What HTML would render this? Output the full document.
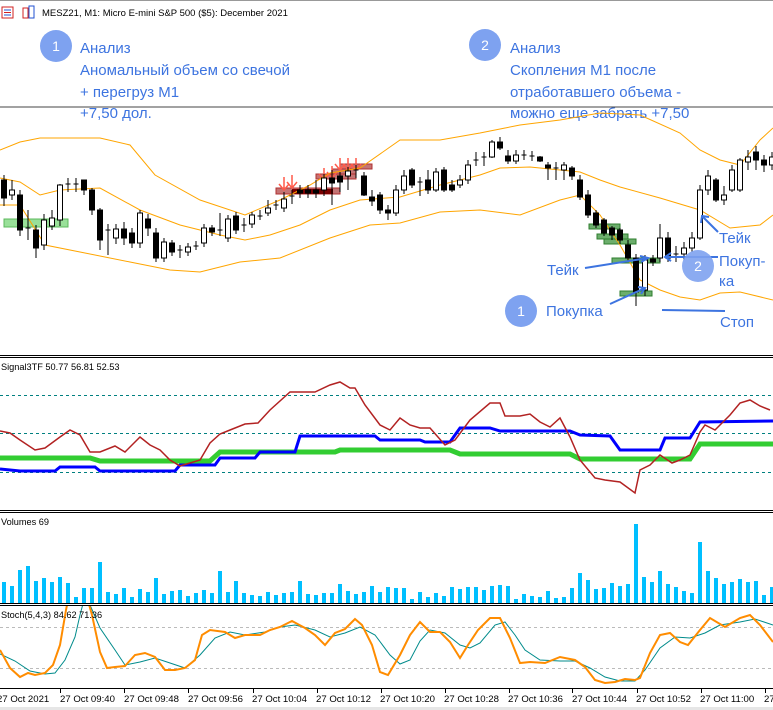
<!DOCTYPE html>
<html><head><meta charset="utf-8"><style>
html,body{margin:0;padding:0;background:#fff;}
svg{display:block;font-family:"Liberation Sans","DejaVu Sans",sans-serif;}
.w{fill:#fff;stroke:#000;stroke-width:1}
.b{fill:#000;stroke:#000;stroke-width:1}
.k{stroke:#000;stroke-width:1}
.an{fill:#3d74e0;font-size:15px}
.ax{font-size:9.6px;fill:#000}
</style></head><body>
<svg width="773" height="710" viewBox="0 0 773 710" xmlns="http://www.w3.org/2000/svg">
<defs><clipPath id="st"><rect x="0" y="606" width="773" height="82"/></clipPath></defs>
<rect x="0" y="0" width="773" height="710" fill="#fff"/>
<line x1="0" y1="0.5" x2="773" y2="0.5" stroke="#999"/>
<rect x="2" y="7" width="11" height="11" fill="none" stroke="#d02020"/>
<line x1="4" y1="10" x2="11" y2="10" stroke="#2050d0"/><line x1="4" y1="12.5" x2="11" y2="12.5" stroke="#d02020"/><line x1="4" y1="15" x2="11" y2="15" stroke="#2050d0"/>
<rect x="23" y="8" width="5" height="10" fill="none" stroke="#d02020"/><rect x="29" y="6" width="5" height="12" fill="none" stroke="#2050d0"/>
<text x="42" y="16" font-size="9.5" fill="#000">MESZ21, M1:  Micro E-mini S&amp;P 500 ($5): December 2021</text>

<circle cx="56" cy="46" r="16" fill="#7ea2f0"/><text x="56" y="51" text-anchor="middle" fill="#fff" font-size="14">1</text>
<text class="an" x="80" y="53">Анализ</text>
<text class="an" x="80" y="75">Аномальный объем со свечой</text>
<text class="an" x="80" y="97">+ перегруз М1</text>
<text class="an" x="80" y="118">+7,50 дол.</text>
<circle cx="485" cy="45" r="16" fill="#7ea2f0"/><text x="485" y="50" text-anchor="middle" fill="#fff" font-size="14">2</text>
<text class="an" x="510" y="53">Анализ</text>
<text class="an" x="510" y="75">Скопления М1 после</text>
<text class="an" x="510" y="97">отработавшего объема -</text>
<text class="an" x="510" y="118">можно еще забрать +7,50</text>
<line x1="0" y1="107" x2="773" y2="107" stroke="#444" stroke-width="1"/>

<rect x="4" y="219" width="64" height="8" fill="#7fd87f" fill-opacity=".8" stroke="#5cb85c"/>
<g fill="#2e8b2e" fill-opacity=".7" stroke="#2e7d2e">
<rect x="589" y="224" width="31" height="5"/><rect x="597" y="234" width="31" height="5"/><rect x="604" y="239" width="32" height="5"/>
<rect x="612" y="258" width="48" height="5"/><rect x="620" y="291" width="32" height="5"/></g>
<g fill="#a52a2a" fill-opacity=".65" stroke="#b03030">
<rect x="276" y="188" width="64" height="6"/><rect x="316" y="174" width="40" height="5"/><rect x="332" y="169" width="24" height="5"/><rect x="340" y="164" width="32" height="5"/></g>
<rect x="292" y="189" width="41" height="5" fill="#7a0000"/>
<g stroke="#ff5a4a" stroke-width="1.5" fill="none">
<path d="M284 177v13M279 184l5 6 5-6M292 175v13M287 182l5 6 5-6M324 168v12M319 174l5 6 5-6M332 166v12M327 172l5 6 5-6M340 158v12M335 164l5 6 5-6M348 158v12M343 164l5 6 5-6M356 158v12M351 164l5 6 5-6"/></g>

<g fill="none" stroke="#ffa500" stroke-width="1">
<polyline points="0,150 20,142 40,138 100,138 130,145 155,175 200,200 245,215 280,200 310,185 330,173 360,168 400,140 440,140 480,133 520,125 560,120 600,113 640,115 680,133 700,150 720,160 740,165 760,140 773,128"/>
<polyline points="0,178 20,182 40,195 60,190 100,188 140,210 180,225 220,235 245,240 270,235 300,225 330,210 360,200 400,197 440,185 480,175 500,168 530,167 560,170 580,172 600,180 620,187 660,198 700,210 730,228 760,225 773,215"/>
<polyline points="0,205 20,205 45,245 80,252 130,262 170,270 200,272 240,262 280,258 330,238 370,225 400,223 440,212 480,210 520,215 560,200 580,195 600,215 620,245 640,280 660,290 680,297 700,300 720,293 740,292 773,300"/>
</g>

<g>
<line class="k" x1="4" y1="175" x2="4" y2="206"/><rect class="b" x="1.5" y="180" width="5" height="18"/>
<line class="k" x1="12" y1="180" x2="12" y2="200"/><rect class="w" x="9.5" y="190" width="5" height="5"/>
<line class="k" x1="20" y1="190" x2="20" y2="236"/><rect class="b" x="17.5" y="195" width="5" height="35"/>
<line class="k" x1="28" y1="210" x2="28" y2="240"/><line class="k" x1="25.5" y1="228" x2="30.5" y2="228"/>
<line class="k" x1="36" y1="225" x2="36" y2="258"/><rect class="b" x="33.5" y="230" width="5" height="18"/>
<line class="k" x1="44" y1="214" x2="44" y2="250"/><rect class="w" x="41.5" y="220" width="5" height="25"/>
<line class="k" x1="52" y1="210" x2="52" y2="230"/><rect class="w" x="49.5" y="218" width="5" height="8"/>
<line class="k" x1="60" y1="184" x2="60" y2="226"/><rect class="w" x="57.5" y="185" width="5" height="35"/>
<line class="k" x1="68" y1="178" x2="68" y2="192"/><line class="k" x1="65.5" y1="184" x2="70.5" y2="184"/>
<line class="k" x1="76" y1="178" x2="76" y2="192"/><line class="k" x1="73.5" y1="184" x2="78.5" y2="184"/>
<line class="k" x1="84" y1="180" x2="84" y2="195"/><rect class="b" x="81.5" y="180" width="5" height="10"/>
<line class="k" x1="92" y1="188" x2="92" y2="215"/><rect class="b" x="89.5" y="190" width="5" height="20"/>
<line class="k" x1="100" y1="208" x2="100" y2="250"/><rect class="b" x="97.5" y="210" width="5" height="30"/>
<line class="k" x1="108" y1="224" x2="108" y2="255"/><line class="k" x1="105.5" y1="230" x2="110.5" y2="230"/>
<line class="k" x1="116" y1="224" x2="116" y2="244"/><rect class="w" x="113.5" y="229" width="5" height="9"/>
<line class="k" x1="124" y1="222" x2="124" y2="245"/><rect class="b" x="121.5" y="229" width="5" height="9"/>
<line class="k" x1="132" y1="228" x2="132" y2="248"/><rect class="b" x="129.5" y="233" width="5" height="10"/>
<line class="k" x1="140" y1="210" x2="140" y2="248"/><rect class="w" x="137.5" y="213" width="5" height="30"/>
<line class="k" x1="148" y1="214" x2="148" y2="236"/><rect class="b" x="145.5" y="219" width="5" height="9"/>
<line class="k" x1="156" y1="228" x2="156" y2="262"/><rect class="b" x="153.5" y="233" width="5" height="25"/>
<line class="k" x1="164" y1="238" x2="164" y2="262"/><rect class="w" x="161.5" y="242" width="5" height="16"/>
<line class="k" x1="172" y1="240" x2="172" y2="256"/><rect class="b" x="169.5" y="243" width="5" height="9"/>
<line class="k" x1="180" y1="245" x2="180" y2="258"/><line class="k" x1="177.5" y1="250" x2="182.5" y2="250"/>
<line class="k" x1="188" y1="243" x2="188" y2="256"/><rect class="w" x="185.5" y="247" width="5" height="5"/>
<line class="k" x1="196" y1="241" x2="196" y2="250"/><line class="k" x1="193.5" y1="246" x2="198.5" y2="246"/>
<line class="k" x1="204" y1="224" x2="204" y2="247"/><rect class="w" x="201.5" y="228" width="5" height="15"/>
<line class="k" x1="212" y1="225" x2="212" y2="236"/><rect class="b" x="209.5" y="228" width="5" height="4"/>
<line class="k" x1="220" y1="213" x2="220" y2="236"/><line class="k" x1="217.5" y1="230" x2="222.5" y2="230"/>
<line class="k" x1="228" y1="215" x2="228" y2="242"/><rect class="w" x="225.5" y="219" width="5" height="19"/>
<line class="k" x1="236" y1="212" x2="236" y2="234"/><rect class="b" x="233.5" y="216" width="5" height="14"/>
<line class="k" x1="244" y1="218" x2="244" y2="232"/><line class="k" x1="241.5" y1="225" x2="246.5" y2="225"/>
<line class="k" x1="252" y1="212" x2="252" y2="228"/><rect class="w" x="249.5" y="215" width="5" height="9"/>
<line class="k" x1="260" y1="210" x2="260" y2="220"/><line class="k" x1="257.5" y1="216" x2="262.5" y2="216"/>
<line class="k" x1="268" y1="200" x2="268" y2="216"/><rect class="w" x="265.5" y="208" width="5" height="5"/>
<line class="k" x1="276" y1="200" x2="276" y2="210"/><line class="k" x1="273.5" y1="205" x2="278.5" y2="205"/>
<line class="k" x1="284" y1="192" x2="284" y2="212"/><rect class="w" x="281.5" y="199" width="5" height="9"/>
<line class="k" x1="292" y1="190" x2="292" y2="204"/><line class="k" x1="289.5" y1="196" x2="294.5" y2="196"/>
<line class="k" x1="300" y1="185" x2="300" y2="198"/><rect class="b" x="297.5" y="190" width="5" height="3"/>
<line class="k" x1="308" y1="185" x2="308" y2="198"/><rect class="b" x="305.5" y="190" width="5" height="3"/>
<line class="k" x1="316" y1="180" x2="316" y2="198"/><rect class="b" x="313.5" y="190" width="5" height="3"/>
<line class="k" x1="324" y1="174" x2="324" y2="196"/><rect class="w" x="321.5" y="178" width="5" height="12"/>
<line class="k" x1="332" y1="170" x2="332" y2="205"/><rect class="b" x="329.5" y="178" width="5" height="5"/>
<line class="k" x1="340" y1="172" x2="340" y2="192"/><rect class="b" x="337.5" y="176" width="5" height="6"/>
<line class="k" x1="348" y1="167" x2="348" y2="190"/><rect class="w" x="345.5" y="171" width="5" height="5"/>
<line class="k" x1="356" y1="165" x2="356" y2="178"/><line class="k" x1="353.5" y1="170" x2="358.5" y2="170"/>
<line class="k" x1="364" y1="172" x2="364" y2="196"/><rect class="b" x="361.5" y="176" width="5" height="19"/>
<line class="k" x1="372" y1="190" x2="372" y2="206"/><rect class="b" x="369.5" y="197" width="5" height="4"/>
<line class="k" x1="380" y1="192" x2="380" y2="214"/><rect class="b" x="377.5" y="195" width="5" height="15"/>
<line class="k" x1="388" y1="205" x2="388" y2="220"/><rect class="b" x="385.5" y="210" width="5" height="3"/>
<line class="k" x1="396" y1="185" x2="396" y2="216"/><rect class="w" x="393.5" y="190" width="5" height="23"/>
<line class="k" x1="404" y1="170" x2="404" y2="194"/><rect class="w" x="401.5" y="176" width="5" height="14"/>
<line class="k" x1="412" y1="168" x2="412" y2="188"/><rect class="b" x="409.5" y="170" width="5" height="15"/>
<line class="k" x1="420" y1="177" x2="420" y2="196"/><line class="k" x1="417.5" y1="182" x2="422.5" y2="182"/>
<line class="k" x1="428" y1="170" x2="428" y2="194"/><rect class="b" x="425.5" y="180" width="5" height="10"/>
<line class="k" x1="436" y1="168" x2="436" y2="192"/><rect class="w" x="433.5" y="172" width="5" height="18"/>
<line class="k" x1="444" y1="167" x2="444" y2="192"/><rect class="b" x="441.5" y="170" width="5" height="20"/>
<line class="k" x1="452" y1="180" x2="452" y2="192"/><rect class="b" x="449.5" y="185" width="5" height="5"/>
<line class="k" x1="460" y1="175" x2="460" y2="188"/><rect class="w" x="457.5" y="180" width="5" height="5"/>
<line class="k" x1="468" y1="160" x2="468" y2="184"/><rect class="w" x="465.5" y="165" width="5" height="15"/>
<line class="k" x1="476" y1="152" x2="476" y2="166"/><line class="k" x1="473.5" y1="160" x2="478.5" y2="160"/>
<line class="k" x1="484" y1="152" x2="484" y2="166"/><line class="k" x1="481.5" y1="157" x2="486.5" y2="157"/>
<line class="k" x1="492" y1="140" x2="492" y2="158"/><rect class="w" x="489.5" y="142" width="5" height="15"/>
<line class="k" x1="500" y1="137" x2="500" y2="150"/><rect class="b" x="497.5" y="142" width="5" height="6"/>
<line class="k" x1="508" y1="150" x2="508" y2="164"/><rect class="b" x="505.5" y="156" width="5" height="5"/>
<line class="k" x1="516" y1="150" x2="516" y2="164"/><rect class="w" x="513.5" y="155" width="5" height="6"/>
<line class="k" x1="524" y1="150" x2="524" y2="160"/><line class="k" x1="521.5" y1="155" x2="526.5" y2="155"/>
<line class="k" x1="532" y1="151" x2="532" y2="161"/><line class="k" x1="529.5" y1="156" x2="534.5" y2="156"/>
<line class="k" x1="540" y1="156" x2="540" y2="162"/><rect class="b" x="537.5" y="157" width="5" height="4"/>
<line class="k" x1="548" y1="162" x2="548" y2="180"/><rect class="b" x="545.5" y="165" width="5" height="3"/>
<line class="k" x1="556" y1="162" x2="556" y2="180"/><line class="k" x1="553.5" y1="168" x2="558.5" y2="168"/>
<line class="k" x1="564" y1="162" x2="564" y2="180"/><rect class="w" x="561.5" y="165" width="5" height="5"/>
<line class="k" x1="572" y1="166" x2="572" y2="180"/><rect class="b" x="569.5" y="168" width="5" height="8"/>
<line class="k" x1="580" y1="175" x2="580" y2="200"/><rect class="b" x="577.5" y="180" width="5" height="17"/>
<line class="k" x1="588" y1="190" x2="588" y2="218"/><rect class="b" x="585.5" y="195" width="5" height="20"/>
<line class="k" x1="596" y1="210" x2="596" y2="228"/><rect class="b" x="593.5" y="213" width="5" height="12"/>
<line class="k" x1="604" y1="218" x2="604" y2="236"/><rect class="b" x="601.5" y="220" width="5" height="13"/>
<line class="k" x1="612" y1="226" x2="612" y2="240"/><rect class="b" x="609.5" y="228" width="5" height="7"/>
<line class="k" x1="620" y1="228" x2="620" y2="244"/><rect class="b" x="617.5" y="230" width="5" height="10"/>
<line class="k" x1="628" y1="240" x2="628" y2="262"/><rect class="b" x="625.5" y="245" width="5" height="13"/>
<line class="k" x1="636" y1="254" x2="636" y2="306"/><rect class="b" x="633.5" y="258" width="5" height="34"/>
<line class="k" x1="645" y1="255" x2="645" y2="296"/><rect class="w" x="642.5" y="260" width="5" height="30"/>
<line class="k" x1="653" y1="255" x2="653" y2="266"/><rect class="b" x="650.5" y="259" width="5" height="3"/>
<line class="k" x1="660" y1="224" x2="660" y2="262"/><rect class="w" x="657.5" y="238" width="5" height="20"/>
<line class="k" x1="668" y1="232" x2="668" y2="262"/><rect class="b" x="665.5" y="238" width="5" height="20"/>
<line class="k" x1="676" y1="246" x2="676" y2="262"/><line class="k" x1="673.5" y1="254" x2="678.5" y2="254"/>
<line class="k" x1="684" y1="242" x2="684" y2="260"/><rect class="w" x="681.5" y="248" width="5" height="6"/>
<line class="k" x1="692" y1="232" x2="692" y2="252"/><rect class="w" x="689.5" y="238" width="5" height="10"/>
<line class="k" x1="700" y1="185" x2="700" y2="240"/><rect class="w" x="697.5" y="190" width="5" height="48"/>
<line class="k" x1="708" y1="170" x2="708" y2="195"/><rect class="w" x="705.5" y="176" width="5" height="14"/>
<line class="k" x1="716" y1="178" x2="716" y2="202"/><rect class="b" x="713.5" y="180" width="5" height="20"/>
<line class="k" x1="724" y1="186" x2="724" y2="205"/><rect class="w" x="721.5" y="195" width="5" height="5"/>
<line class="k" x1="732" y1="165" x2="732" y2="192"/><rect class="w" x="729.5" y="170" width="5" height="20"/>
<line class="k" x1="740" y1="158" x2="740" y2="192"/><rect class="w" x="737.5" y="160" width="5" height="30"/>
<line class="k" x1="748" y1="150" x2="748" y2="170"/><rect class="w" x="745.5" y="157" width="5" height="5"/>
<line class="k" x1="756" y1="146" x2="756" y2="170"/><rect class="b" x="753.5" y="152" width="5" height="8"/>
<line class="k" x1="764" y1="155" x2="764" y2="172"/><rect class="b" x="761.5" y="160" width="5" height="5"/>
<line class="k" x1="772" y1="152" x2="772" y2="170"/><rect class="w" x="769.5" y="157" width="5" height="8"/>
</g>

<g stroke="#3d74e0" stroke-width="2" fill="none">
<line x1="585" y1="268" x2="648" y2="258"/><path d="M640 256l8 2-7 4"/>
<line x1="718" y1="232" x2="702" y2="216"/><path d="M701 223l1-7 7 1"/>
<line x1="718" y1="257" x2="665" y2="257"/><path d="M671 253l-6 4 6 4"/>
<line x1="610" y1="304" x2="645" y2="288"/><path d="M638 287l7 1-4 6"/>
<line x1="662" y1="310" x2="725" y2="311"/>
</g>
<text class="an" x="547" y="275">Тейк</text>
<circle cx="698" cy="266" r="16" fill="#7ea2f0" fill-opacity=".9"/><text x="698" y="271" text-anchor="middle" fill="#fff" font-size="14">2</text>
<text class="an" x="719" y="243">Тейк</text>
<text class="an" x="719" y="266">Покуп-</text>
<text class="an" x="719" y="286">ка</text>
<circle cx="521" cy="311" r="16" fill="#7ea2f0"/><text x="521" y="316" text-anchor="middle" fill="#fff" font-size="14">1</text>
<text class="an" x="546" y="316">Покупка</text>
<text class="an" x="720" y="327">Стоп</text>

<g stroke="#000" stroke-width="1">
<line x1="0" y1="355.5" x2="773" y2="355.5"/><line x1="0" y1="357.5" x2="773" y2="357.5"/>
<line x1="0" y1="510.5" x2="773" y2="510.5"/><line x1="0" y1="512.5" x2="773" y2="512.5"/>
<line x1="0" y1="603.5" x2="773" y2="603.5"/><line x1="0" y1="605.5" x2="773" y2="605.5"/>
<line x1="0" y1="688.5" x2="773" y2="688.5"/>
</g>

<text x="1" y="370" font-size="9.2" fill="#000">Signal3TF 50.77 56.81 52.53</text>
<g stroke="#008080" stroke-dasharray="3,3" stroke-width="1">
<line x1="0" y1="395.5" x2="773" y2="395.5"/><line x1="0" y1="433.5" x2="773" y2="433.5"/><line x1="0" y1="472.5" x2="773" y2="472.5"/></g>
<polyline fill="none" stroke="#32cd32" stroke-width="5" points="0,458 90,458 100,461 210,461 220,452 335,452 340,450 450,450 460,454 570,454 580,459 690,459 700,444 773,444"/>
<polyline fill="none" stroke="#0000ff" stroke-width="3" points="0,469 20,471 55,471 60,467 95,467 100,471 175,471 180,465 215,465 220,458 255,458 260,452 295,452 300,436 375,436 380,440 420,440 425,442 450,442 460,428 490,428 500,431 570,431 580,435 610,436 620,450 660,450 665,438 690,438 700,422 773,421"/>
<polyline fill="none" stroke="#b22222" stroke-width="1.5" points="0,431 10,433 20,440 35,450 45,448 60,437 70,430 80,435 90,452 100,452 115,446 125,452 140,437 150,445 160,450 170,460 180,466 200,460 210,443 220,434 230,430 245,424 258,423 270,410 290,392 315,392 330,385 340,382 350,388 355,388 365,405 380,425 390,430 400,418 410,425 420,428 430,428 445,445 455,440 470,420 490,403 500,403 505,416 520,416 530,414 540,422 550,427 560,418 570,437 580,460 595,478 605,480 620,482 635,493 640,470 650,465 660,455 672,463 680,460 690,455 700,432 705,425 715,430 730,415 740,403 750,400 760,406 770,410"/>

<text x="1" y="525" font-size="9.2" fill="#000">Volumes 69</text>
<g fill="#00bfff">
<rect x="2" y="582" width="4" height="21"/><rect x="10" y="586" width="4" height="17"/><rect x="18" y="570" width="4" height="33"/><rect x="26" y="566" width="4" height="37"/><rect x="34" y="581" width="4" height="22"/><rect x="42" y="578" width="4" height="25"/><rect x="50" y="582" width="4" height="21"/><rect x="58" y="577" width="4" height="26"/><rect x="66" y="583" width="4" height="20"/><rect x="74" y="597" width="4" height="6"/><rect x="82" y="588" width="4" height="15"/><rect x="90" y="588" width="4" height="15"/><rect x="98" y="562" width="4" height="41"/><rect x="106" y="592" width="4" height="11"/><rect x="114" y="594" width="4" height="9"/><rect x="122" y="588" width="4" height="15"/><rect x="130" y="597" width="4" height="6"/><rect x="138" y="589" width="4" height="14"/><rect x="146" y="592" width="4" height="11"/><rect x="154" y="578" width="4" height="25"/><rect x="162" y="594" width="4" height="9"/><rect x="170" y="591" width="4" height="12"/><rect x="178" y="590" width="4" height="13"/><rect x="186" y="596" width="4" height="7"/><rect x="194" y="593" width="4" height="10"/><rect x="202" y="590" width="4" height="13"/><rect x="210" y="593" width="4" height="10"/><rect x="218" y="571" width="4" height="32"/><rect x="226" y="592" width="4" height="11"/><rect x="234" y="581" width="4" height="22"/><rect x="242" y="593" width="4" height="10"/><rect x="250" y="595" width="4" height="8"/><rect x="258" y="596" width="4" height="7"/><rect x="266" y="592" width="4" height="11"/><rect x="274" y="595" width="4" height="8"/><rect x="282" y="593" width="4" height="10"/><rect x="290" y="592" width="4" height="11"/><rect x="298" y="581" width="4" height="22"/><rect x="306" y="594" width="4" height="9"/><rect x="314" y="595" width="4" height="8"/><rect x="322" y="593" width="4" height="10"/><rect x="330" y="593" width="4" height="10"/><rect x="338" y="584" width="4" height="19"/><rect x="346" y="591" width="4" height="12"/><rect x="354" y="594" width="4" height="9"/><rect x="362" y="592" width="4" height="11"/><rect x="370" y="586" width="4" height="17"/><rect x="378" y="592" width="4" height="11"/><rect x="386" y="587" width="4" height="16"/><rect x="394" y="588" width="4" height="15"/><rect x="402" y="588" width="4" height="15"/><rect x="410" y="599" width="4" height="4"/><rect x="418" y="592" width="4" height="11"/><rect x="426" y="597" width="4" height="6"/><rect x="434" y="593" width="4" height="10"/><rect x="442" y="596" width="4" height="7"/><rect x="450" y="587" width="4" height="16"/><rect x="458" y="589" width="4" height="14"/><rect x="466" y="587" width="4" height="16"/><rect x="474" y="587" width="4" height="16"/><rect x="482" y="590" width="4" height="13"/><rect x="490" y="586" width="4" height="17"/><rect x="498" y="585" width="4" height="18"/><rect x="506" y="586" width="4" height="17"/><rect x="514" y="599" width="4" height="4"/><rect x="522" y="594" width="4" height="9"/><rect x="530" y="596" width="4" height="7"/><rect x="538" y="597" width="4" height="6"/><rect x="546" y="591" width="4" height="12"/><rect x="554" y="598" width="4" height="5"/><rect x="562" y="597" width="4" height="6"/><rect x="570" y="588" width="4" height="15"/><rect x="578" y="573" width="4" height="30"/><rect x="586" y="580" width="4" height="23"/><rect x="594" y="589" width="4" height="14"/><rect x="602" y="588" width="4" height="15"/><rect x="610" y="583" width="4" height="20"/><rect x="618" y="586" width="4" height="17"/><rect x="626" y="584" width="4" height="19"/><rect x="634" y="524" width="4" height="79"/><rect x="642" y="577" width="4" height="26"/><rect x="650" y="582" width="4" height="21"/><rect x="658" y="571" width="4" height="32"/><rect x="666" y="584" width="4" height="19"/><rect x="674" y="587" width="4" height="16"/><rect x="682" y="591" width="4" height="12"/><rect x="690" y="593" width="4" height="10"/><rect x="698" y="542" width="4" height="61"/><rect x="706" y="571" width="4" height="32"/><rect x="714" y="578" width="4" height="25"/><rect x="722" y="584" width="4" height="19"/><rect x="730" y="582" width="4" height="21"/><rect x="738" y="579" width="4" height="24"/><rect x="746" y="582" width="4" height="21"/><rect x="754" y="581" width="4" height="22"/><rect x="762" y="595" width="4" height="8"/><rect x="770" y="587" width="3" height="16"/>
</g>

<g stroke="#bbb" stroke-dasharray="3,3"><line x1="0" y1="627.5" x2="773" y2="627.5"/><line x1="0" y1="668.5" x2="773" y2="668.5"/></g>
<g clip-path="url(#st)">
<polyline fill="none" stroke="#008b8b" stroke-width="1" points="0,654 15,661 30,671 45,674 55,673 65,660 75,637 80,615 84,600 90,605 100,628 115,650 125,665 140,662 155,658 170,663 185,668 200,655 215,638 230,632 245,635 265,632 280,627 295,625 315,630 330,637 345,633 360,627 375,635 390,655 400,664 410,660 420,641 430,630 445,633 460,645 470,648 480,643 495,625 505,622 515,635 525,650 540,660 560,661 575,661 590,668 605,677 620,681 635,681 645,670 660,648 675,637 690,638 705,633 720,625 740,622 755,619 773,625"/>
<polyline fill="none" stroke="#ff8c00" stroke-width="2" points="0,650 10,668 20,677 28,673 35,675 45,673 53,665 60,645 66,610 70,590 85,590 92,615 100,652 107,668 115,667 125,666 135,655 145,653 155,657 165,670 175,670 185,668 195,660 202,635 210,630 225,632 235,638 245,635 260,635 270,630 280,627 292,621 305,628 315,635 325,645 335,633 345,629 355,619 362,625 372,645 380,672 388,675 400,655 410,635 420,622 430,632 440,632 450,642 460,658 468,645 478,630 490,618 500,618 510,638 520,663 530,662 545,663 560,657 575,660 585,667 595,680 605,683 615,682 625,679 635,680 640,678 650,653 660,635 670,633 680,642 688,645 700,630 710,618 725,627 740,618 750,615 760,625 773,642"/>
</g>
<text x="1" y="618" font-size="9.2" fill="#000">Stoch(5,4,3) 84.62 71.36</text>

<g stroke="#000"><line x1="60.5" y1="688" x2="60.5" y2="693"/><line x1="124.5" y1="688" x2="124.5" y2="693"/><line x1="188.5" y1="688" x2="188.5" y2="693"/><line x1="253.5" y1="688" x2="253.5" y2="693"/><line x1="317.5" y1="688" x2="317.5" y2="693"/><line x1="381.5" y1="688" x2="381.5" y2="693"/><line x1="445.5" y1="688" x2="445.5" y2="693"/><line x1="509.5" y1="688" x2="509.5" y2="693"/><line x1="572.5" y1="688" x2="572.5" y2="693"/><line x1="637.5" y1="688" x2="637.5" y2="693"/><line x1="701.5" y1="688" x2="701.5" y2="693"/><line x1="765.5" y1="688" x2="765.5" y2="693"/></g>
<g class="ax">
<text x="-3" y="702">27 Oct 2021</text>
<text x="60" y="702">27 Oct 09:40</text><text x="124" y="702">27 Oct 09:48</text><text x="188" y="702">27 Oct 09:56</text><text x="252" y="702">27 Oct 10:04</text><text x="316" y="702">27 Oct 10:12</text><text x="380" y="702">27 Oct 10:20</text><text x="444" y="702">27 Oct 10:28</text><text x="508" y="702">27 Oct 10:36</text><text x="572" y="702">27 Oct 10:44</text><text x="636" y="702">27 Oct 10:52</text><text x="700" y="702">27 Oct 11:00</text><text x="764" y="702">27</text>
</g>
<rect x="0" y="707" width="773" height="3" fill="#e6e6e6"/>
</svg>
</body></html>
